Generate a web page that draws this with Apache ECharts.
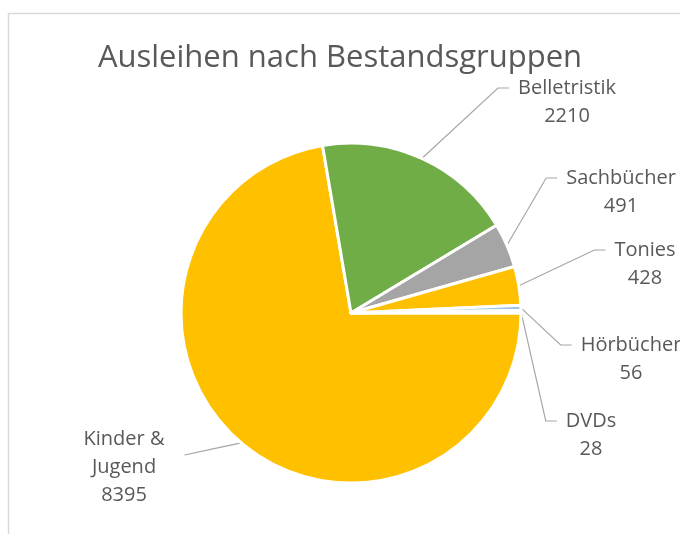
<!DOCTYPE html>
<html>
<head>
<meta charset="utf-8">
<script src="https://cdn.jsdelivr.net/npm/echarts@6/dist/echarts.min.js"></script>
<style>
  html, body { margin: 0; padding: 0; background: #fff; }
  #chart { width: 680px; height: 534px; }
</style>
</head>
<body>
<div id="chart"></div>
<script>
const categories = ['Kinder & Jugend', 'Belletristik', 'Sachbücher', 'Tonies', 'Hörbücher', 'DVDs'];
const values = [8395, 2210, 491, 428, 56, 28];
const colors = ['#FFC000', '#70AD47', '#A5A5A5', '#FFC000', '#9DC3E6', '#C9DDF0'];

// centre of each data label block, as Excel placed them
const labelPos = {
  'Kinder & Jugend': [124, 467],
  'Belletristik': [567, 102],
  'Sachbücher': [621, 192],
  'Tonies': [645, 264],
  'Hörbücher': [631, 359],
  'DVDs': [591, 435]
};

const chart = echarts.init(document.getElementById('chart'));

const option = {
  animation: false,
  textStyle: { fontFamily: 'Open Sans' },
  title: {
    text: 'Ausleihen nach Bestandsgruppen',
    left: 'center',
    top: 38,
    textStyle: { fontFamily: 'Open Sans', fontSize: 31, fontWeight: 'normal', color: '#595959' }
  },
  graphic: [{
    type: 'rect',
    shape: { x: 8.5, y: 13.5, width: 720, height: 560 },
    style: { fill: 'none', stroke: '#D9D9D9', lineWidth: 1.5 },
    silent: true
  }],
  series: [{
    type: 'pie',
    center: [351, 313],
    radius: 170,
    startAngle: 0,
    clockwise: true,
    avoidLabelOverlap: false,
    emphasis: { disabled: true },
    itemStyle: { borderColor: '#fff', borderWidth: 3 },
    label: {
      show: true,
      position: 'outside',
      formatter: p => p.name.replace('& ', '&\n') + '\n' + p.value,
      fontFamily: 'Open Sans',
      fontSize: 20,
      lineHeight: 28,
      color: '#595959',
      align: 'center'
    },
    labelLine: {
      show: true,
      length: 20,
      length2: 10,
      lineStyle: { color: '#A6A6A6', width: 1.2 }
    },
    labelLayout: function (p) {
      const pos = labelPos[categories[p.dataIndex]];
      const w = p.labelRect.width;
      const h = p.labelRect.height;
      const start = p.labelLinePoints ? p.labelLinePoints[0] : [pos[0], pos[1]];
      let pts;
      if (pos[0] < 351) {
        const end = [pos[0] + w / 2 + 20, pos[1] - 12];
        pts = [start, [(start[0] + end[0]) / 2, (start[1] + end[1]) / 2], end];
      } else {
        const left = pos[0] - w / 2;
        const y1 = pos[1] - h / 2 + 14;
        pts = [start, [left - 20, y1], [left - 9, y1]];
      }
      return {
        x: pos[0],
        y: pos[1],
        align: 'center',
        verticalAlign: 'middle',
        labelLinePoints: pts
      };
    },
    data: categories.map((name, i) => ({
      name: name,
      value: values[i],
      itemStyle: { color: colors[i] }
    }))
  }]
};

chart.setOption(option);
</script>
</body>
</html>
